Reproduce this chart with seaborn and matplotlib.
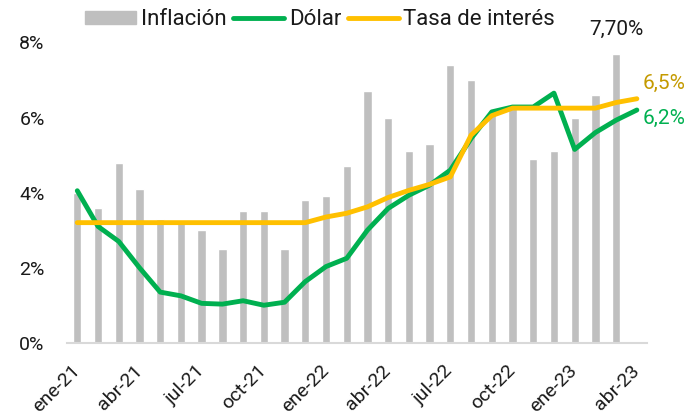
import numpy as np
import pandas as pd
import matplotlib
matplotlib.use("Agg")
import matplotlib.pyplot as plt
import seaborn as sns
from matplotlib.patches import Patch
from matplotlib.lines import Line2D

months = ['ene-21', 'feb-21', 'mar-21', 'abr-21', 'may-21', 'jun-21', 'jul-21', 'ago-21',
          'sep-21', 'oct-21', 'nov-21', 'dic-21', 'ene-22', 'feb-22', 'mar-22', 'abr-22',
          'may-22', 'jun-22', 'jul-22', 'ago-22', 'sep-22', 'oct-22', 'nov-22', 'dic-22',
          'ene-23', 'feb-23', 'mar-23', 'abr-23']
inflacion = [4.0, 3.6, 4.8, 4.1, 3.3, 3.2, 3.0, 2.5, 3.5, 3.5, 2.5, 3.8, 3.9, 4.7,
             6.7, 6.0, 5.1, 5.3, 7.4, 7.0, 6.2, 6.3, 4.9, 5.1, 6.0, 6.6, 7.7, np.nan]
dolar = [4.05, 3.1, 2.7, 2.0, 1.35, 1.25, 1.05, 1.03, 1.12, 1.0, 1.08, 1.63, 2.03, 2.25,
         3.0, 3.58, 3.93, 4.2, 4.6, 5.44, 6.15, 6.28, 6.28, 6.65, 5.15, 5.6, 5.93, 6.2]
tasa = [3.2, 3.2, 3.2, 3.2, 3.2, 3.2, 3.2, 3.2, 3.2, 3.2, 3.2, 3.2, 3.35, 3.45,
        3.62, 3.87, 4.06, 4.22, 4.42, 5.53, 6.05, 6.25, 6.25, 6.25, 6.25, 6.25, 6.4, 6.5]
tick_labels = months[::3]

GRAY = '#BFBFBF'
GREEN = '#00B050'
YELLOW = '#FFC000'
GOLD = '#C49A00'

df = pd.DataFrame({'mes': months, 'inflacion': inflacion, 'dolar': dolar, 'tasa': tasa})

sns.set_theme(style="white")
plt.rcParams['font.family'] = ['Roboto', 'DejaVu Sans']
plt.rcParams['text.color'] = '#1a1a1a'

fig = plt.figure(figsize=(6.9, 4.16), dpi=100)
ax = fig.add_axes([0.097, 0.176, 0.841, 0.722])

sns.barplot(data=df, x='mes', y='inflacion', order=months, color=GRAY,
            width=0.4, saturation=1, ax=ax)
sns.lineplot(data=df, x='mes', y='dolar', color=GREEN, lw=3.5, ax=ax)
sns.lineplot(data=df, x='mes', y='tasa', color=YELLOW, lw=3.5, ax=ax)

ax.set_xlim(-0.5, len(months) - 0.5)
ax.set_ylim(0, 8)
ax.set_yticks([0, 2, 4, 6, 8])
ax.set_yticklabels([f'{v}%' for v in [0, 2, 4, 6, 8]], fontsize=14)
ax.set_xticks(range(0, len(months), 3))
ax.set_xticklabels(tick_labels, rotation=45, ha='right', va='center',
                   rotation_mode='anchor', fontsize=14)
ax.tick_params(axis='x', length=0, pad=18, colors='#1a1a1a')
ax.tick_params(axis='y', length=0, pad=16, colors='#1a1a1a')
ax.set_xlabel('')
ax.set_ylabel('')
for s in ['top', 'right', 'left']:
    ax.spines[s].set_visible(False)
ax.spines['bottom'].set_color('#D9D9D9')
ax.spines['bottom'].set_linewidth(1.5)

last = len(months) - 1
ax.annotate('7,70%', (last - 1, inflacion[last - 1]), xytext=(0, 11), textcoords='offset points',
            ha='center', va='bottom', fontsize=15, annotation_clip=False)
ax.annotate('6,5%', (last, tasa[last]), xytext=(4, 11), textcoords='offset points',
            ha='left', va='center', fontsize=15, color=GOLD, annotation_clip=False)
ax.annotate('6,2%', (last, dolar[last]), xytext=(4, -6), textcoords='offset points',
            ha='left', va='center', fontsize=15, color=GREEN, annotation_clip=False)

handles = [Patch(color=GRAY, label='Inflación'),
           Line2D([], [], color=GREEN, lw=3.5, label='Dólar'),
           Line2D([], [], color=YELLOW, lw=3.5, label='Tasa de interés')]
fig.legend(handles=handles, loc='center', bbox_to_anchor=(0.464, 0.952), ncol=3,
           frameon=False, fontsize=16, handlelength=2.3, handleheight=0.5,
           columnspacing=0.3, handletextpad=0.2)

fig.savefig('out.png', dpi=100)
